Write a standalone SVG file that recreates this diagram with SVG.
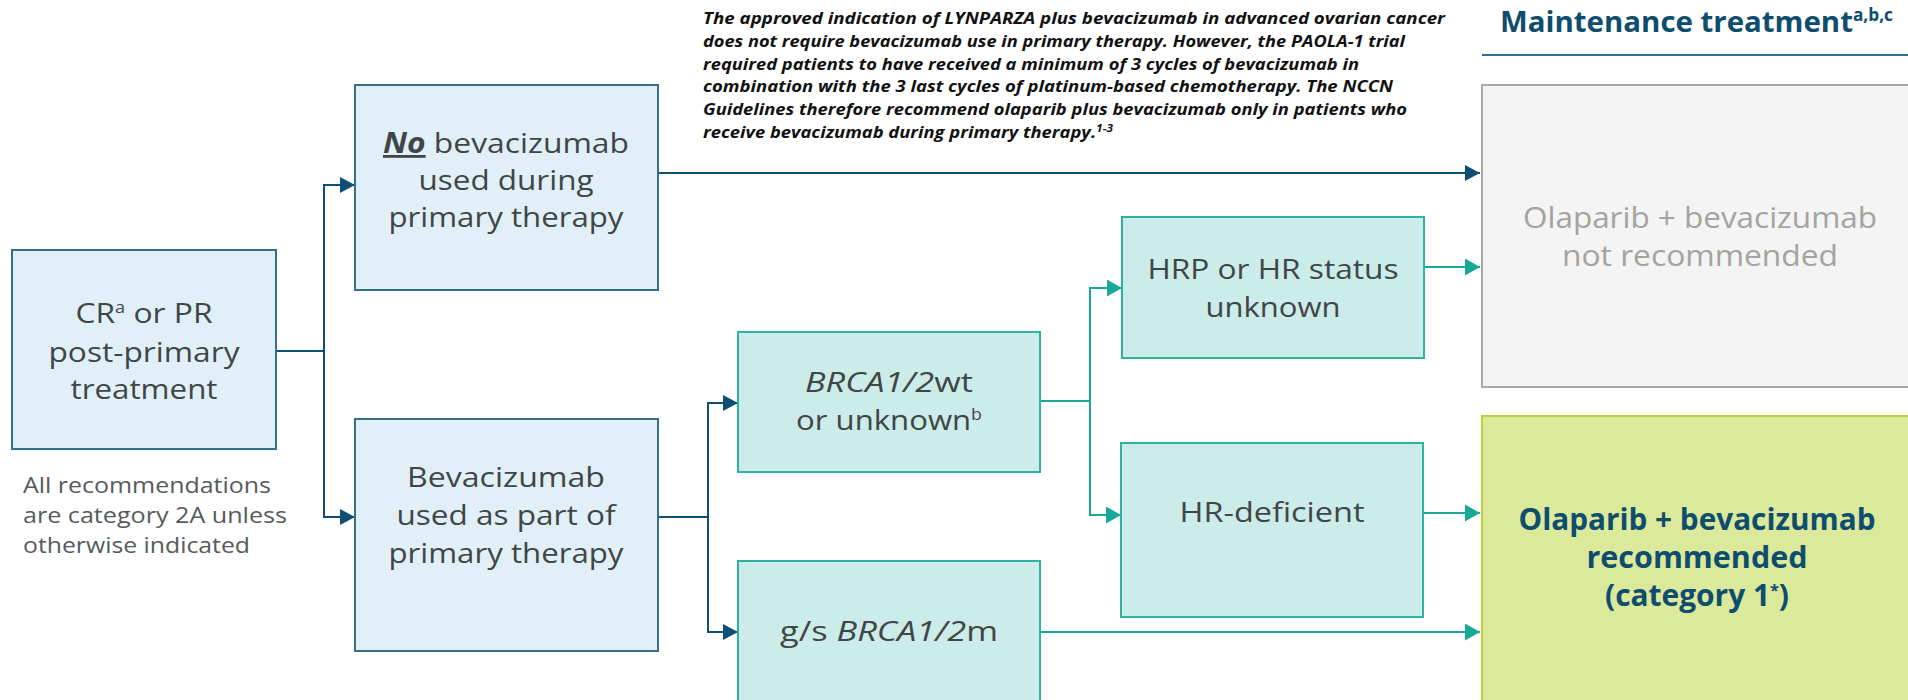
<svg xmlns="http://www.w3.org/2000/svg" width="1908" height="700" viewBox="0 0 1908 700">
<style>
  text { font-family: "Open Sans", "Liberation Sans", sans-serif; }
  .nt { font-size: 28px; font-weight: 500; fill: #404646; text-anchor: middle; }
  .blue rect { fill: #e1f0f8; stroke: #356f8e; stroke-width: 2; }
  .teal rect { fill: #cbece8; stroke: #2cb3a4; stroke-width: 2; }
  .foot { font-size: 21.5px; font-weight: 500; fill: #555b5b; }
  .note { font-size: 15.5px; font-weight: 700; font-style: italic; fill: #111; }
  .hdr { font-size: 29px; font-weight: 700; fill: #0f4d6e; }
  .gtx { font-size: 30px; font-weight: 500; fill: #a3a3a0; text-anchor: middle; }
  .rtx { font-size: 29.5px; font-weight: 700; fill: #0f4d6e; text-anchor: middle; }
  .navy { stroke: #0e4f73; stroke-width: 2; fill: none; }
  .tl { stroke: #17a899; stroke-width: 2; fill: none; }
  .nav-a { marker-end: url(#an); }
  .tl-a { marker-end: url(#at); }
</style>
<defs>
  <marker id="an" markerUnits="userSpaceOnUse" markerWidth="16" markerHeight="16" refX="15" refY="8" orient="auto">
    <path d="M0,0 L15,8 L0,16 Z" fill="#0e4f73"/>
  </marker>
  <marker id="at" markerUnits="userSpaceOnUse" markerWidth="16" markerHeight="17" refX="15" refY="8.5" orient="auto">
    <path d="M0,0 L15,8.5 L0,17 Z" fill="#17a899"/>
  </marker>
</defs>

<g id="connectors">
  <path class="navy nav-a" d="M276,351 H324 V185 H355"/>
  <path class="navy nav-a" d="M324,351 V517 H355"/>
  <path class="navy nav-a" d="M658,173 H1480"/>
  <path class="navy nav-a" d="M658,517 H708 V403 H738"/>
  <path class="navy nav-a" d="M708,517 V632 H738"/>
  <path class="tl tl-a" d="M1040,401 H1090 V288 H1122"/>
  <path class="tl tl-a" d="M1090,401 V515 H1121"/>
  <path class="tl tl-a" d="M1424,267 H1480"/>
  <path class="tl tl-a" d="M1423,513 H1480"/>
  <path class="tl tl-a" d="M1040,632 H1480"/>
</g>

<g id="note">
  <text class="note" x="703" y="24" textLength="742" lengthAdjust="spacingAndGlyphs">The approved indication of LYNPARZA plus bevacizumab in advanced ovarian cancer</text>
  <text class="note" x="703" y="47" textLength="702" lengthAdjust="spacingAndGlyphs">does not require bevacizumab use in primary therapy. However, the PAOLA-1 trial</text>
  <text class="note" x="703" y="69.5" textLength="656" lengthAdjust="spacingAndGlyphs">required patients to have received a minimum of 3 cycles of bevacizumab in</text>
  <text class="note" x="703" y="92" textLength="690" lengthAdjust="spacingAndGlyphs">combination with the 3 last cycles of platinum-based chemotherapy. The NCCN</text>
  <text class="note" x="703" y="115" textLength="704" lengthAdjust="spacingAndGlyphs">Guidelines therefore recommend olaparib plus bevacizumab only in patients who</text>
  <text class="note" x="703" y="138" textLength="410" lengthAdjust="spacingAndGlyphs">receive bevacizumab during primary therapy.<tspan font-size="10" baseline-shift="6">1-3</tspan></text>
</g>

<g id="header">
  <text class="hdr" x="1500" y="32" textLength="393" lengthAdjust="spacingAndGlyphs">Maintenance treatment<tspan font-size="17" baseline-shift="11">a,b,c</tspan></text>
  <line x1="1482" y1="55" x2="1908" y2="55" stroke="#356f8e" stroke-width="2"/>
</g>

<g id="cr" class="blue">
  <rect x="12" y="250" width="264" height="199"/>
  <text class="nt" x="144" y="323" textLength="137" lengthAdjust="spacingAndGlyphs">CR<tspan font-size="16" baseline-shift="10">a</tspan> or PR</text>
  <text class="nt" x="144" y="362" textLength="191" lengthAdjust="spacingAndGlyphs">post-primary</text>
  <text class="nt" x="144" y="399" textLength="147" lengthAdjust="spacingAndGlyphs">treatment</text>
</g>

<g id="footnote">
  <text class="foot" x="23" y="493" textLength="248" lengthAdjust="spacingAndGlyphs">All recommendations</text>
  <text class="foot" x="23" y="523" textLength="264" lengthAdjust="spacingAndGlyphs">are category 2A unless</text>
  <text class="foot" x="23" y="553" textLength="227" lengthAdjust="spacingAndGlyphs">otherwise indicated</text>
</g>

<g id="no-bev" class="blue">
  <rect x="355" y="85" width="303" height="205"/>
  <text class="nt" x="506" y="153" textLength="246" lengthAdjust="spacingAndGlyphs"><tspan font-weight="700" font-style="italic" text-decoration="underline">No</tspan> bevacizumab</text>
  <text class="nt" x="506" y="190" textLength="175" lengthAdjust="spacingAndGlyphs">used during</text>
  <text class="nt" x="506" y="227" textLength="235" lengthAdjust="spacingAndGlyphs">primary therapy</text>
</g>

<g id="bev" class="blue">
  <rect x="355" y="419" width="303" height="232"/>
  <text class="nt" x="506" y="487" textLength="198" lengthAdjust="spacingAndGlyphs">Bevacizumab</text>
  <text class="nt" x="506" y="525" textLength="219" lengthAdjust="spacingAndGlyphs">used as part of</text>
  <text class="nt" x="506" y="563" textLength="235" lengthAdjust="spacingAndGlyphs">primary therapy</text>
</g>

<g id="brca-wt" class="teal">
  <rect x="738" y="332" width="302" height="140"/>
  <text class="nt" x="889" y="392" textLength="168" lengthAdjust="spacingAndGlyphs"><tspan font-style="italic">BRCA1/2</tspan>wt</text>
  <text class="nt" x="889" y="430" textLength="186" lengthAdjust="spacingAndGlyphs">or unknown<tspan font-size="16" baseline-shift="10">b</tspan></text>
</g>

<g id="brca-m" class="teal">
  <rect x="738" y="561" width="302" height="150"/>
  <text class="nt" x="889" y="641" textLength="218" lengthAdjust="spacingAndGlyphs">g/s <tspan font-style="italic">BRCA1/2</tspan>m</text>
</g>

<g id="hrp" class="teal">
  <rect x="1122" y="217" width="302" height="141"/>
  <text class="nt" x="1273" y="279" textLength="251" lengthAdjust="spacingAndGlyphs">HRP or HR status</text>
  <text class="nt" x="1273" y="317" textLength="135" lengthAdjust="spacingAndGlyphs">unknown</text>
</g>

<g id="hrd" class="teal">
  <rect x="1121" y="443" width="302" height="174"/>
  <text class="nt" x="1272" y="522" textLength="185" lengthAdjust="spacingAndGlyphs">HR-deficient</text>
</g>

<g id="not-rec">
  <rect x="1482" y="85" width="440" height="302" fill="#f4f4f4" stroke="#a9a9a7" stroke-width="2"/>
  <text class="gtx" x="1700" y="228" textLength="354" lengthAdjust="spacingAndGlyphs">Olaparib + bevacizumab</text>
  <text class="gtx" x="1700" y="266" textLength="276" lengthAdjust="spacingAndGlyphs">not recommended</text>
</g>

<g id="rec">
  <rect x="1482" y="416" width="440" height="300" fill="#dbe99b" stroke="#b8d43a" stroke-width="2"/>
  <text class="rtx" x="1697" y="530" textLength="357" lengthAdjust="spacingAndGlyphs">Olaparib + bevacizumab</text>
  <text class="rtx" x="1697" y="568" textLength="221" lengthAdjust="spacingAndGlyphs">recommended</text>
  <text class="rtx" x="1697" y="606" textLength="184" lengthAdjust="spacingAndGlyphs">(category 1<tspan font-size="16" baseline-shift="10">*</tspan>)</text>
</g>
</svg>
